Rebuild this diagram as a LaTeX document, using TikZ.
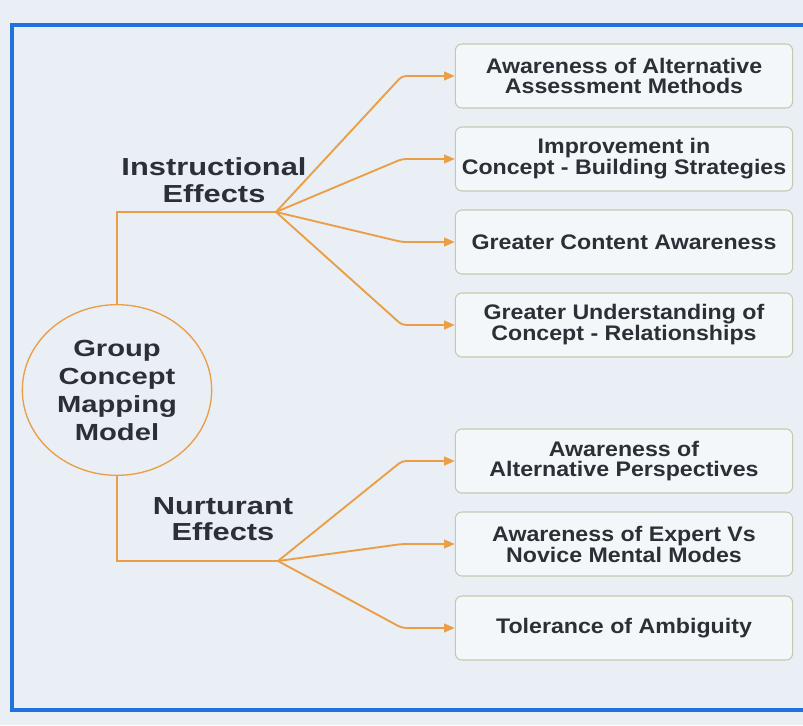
\documentclass[tikz,border=0pt]{standalone}
\usepackage{fontspec}
\newfontfamily\boxfont{Liberation Sans}[FakeStretch=1.1]
\newfontfamily\headfont{Liberation Sans}[FakeStretch=1.25]
\usetikzlibrary{arrows.meta,shapes.geometric}

\definecolor{frameblue}{RGB}{32,114,222}
\definecolor{linkorange}{RGB}{234,158,70}
\definecolor{boxline}{RGB}{194,203,176}
\definecolor{paper}{RGB}{233,239,245}
\definecolor{ink}{RGB}{44,47,54}

\begin{document}
\begin{tikzpicture}[x=0.75pt,y=0.75pt,yscale=-1,
  every node/.style={text=ink},
  effect/.style={draw=boxline, line width=0.8pt, rounded corners=5pt,
    fill=paper!50!white, minimum width=253pt, minimum height=48pt,
    inner sep=0pt, align=center,
    font=\boxfont\bfseries\fontsize{15.8}{14.5}\selectfont},
  head/.style={align=center, inner sep=0pt,
    font=\headfont\bfseries\fontsize{18.5}{20}\selectfont},
  branch/.style={draw=linkorange, line width=1.4pt},
  flow/.style={branch, rounded corners=3pt,
    -{Triangle[length=8pt,width=6.5pt]}}]
  \useasboundingbox (0,0) rectangle (803,725);
  \fill[paper] (0,0) rectangle (803,725);
  \draw[frameblue, line width=3pt] (12,25) rectangle (815,710);

  % centre
  \node[ellipse, draw=linkorange, line width=1pt, minimum width=142pt,
    minimum height=128pt, inner sep=0pt, align=center,
    font=\headfont\bfseries\fontsize{17.5}{21}\selectfont]
    (model) at (117,390) {Group\\Concept\\Mapping\\Model};

  \node[head] (instr) at (214,180) {Instructional\\Effects};
  \node[head] (nurt) at (223,519) {Nurturant\\Effects};

  \coordinate (ij) at (276,212);
  \coordinate (nj) at (278,561);
  \coordinate (elb) at (402,0);

  % effects
  \node[effect] (b1) at (624,76) {Awareness of Alternative\\Assessment Methods};
  \node[effect] (b2) at (624,159) {Improvement in\\Concept - Building Strategies};
  \node[effect] (b3) at (624,242) {Greater Content Awareness};
  \node[effect] (b4) at (624,325) {Greater Understanding of\\Concept - Relationships};
  \node[effect] (b5) at (624,461) {Awareness of\\Alternative Perspectives};
  \node[effect] (b6) at (624,544) {Awareness of Expert Vs\\Novice Mental Modes};
  \node[effect] (b7) at (624,628) {Tolerance of Ambiguity};

  \draw[branch] (model.north) |- (ij);
  \draw[branch] (model.south) |- (nj);

  \draw[flow] (ij) -- (elb |- b1.west) -- (b1.west);
  \draw[flow] (ij) -- (elb |- b2.west) -- (b2.west);
  \draw[flow] (ij) -- (elb |- b3.west) -- (b3.west);
  \draw[flow] (ij) -- (elb |- b4.west) -- (b4.west);
  \draw[flow] (nj) -- (elb |- b5.west) -- (b5.west);
  \draw[flow] (nj) -- (elb |- b6.west) -- (b6.west);
  \draw[flow] (nj) -- (elb |- b7.west) -- (b7.west);
\end{tikzpicture}
\end{document}
